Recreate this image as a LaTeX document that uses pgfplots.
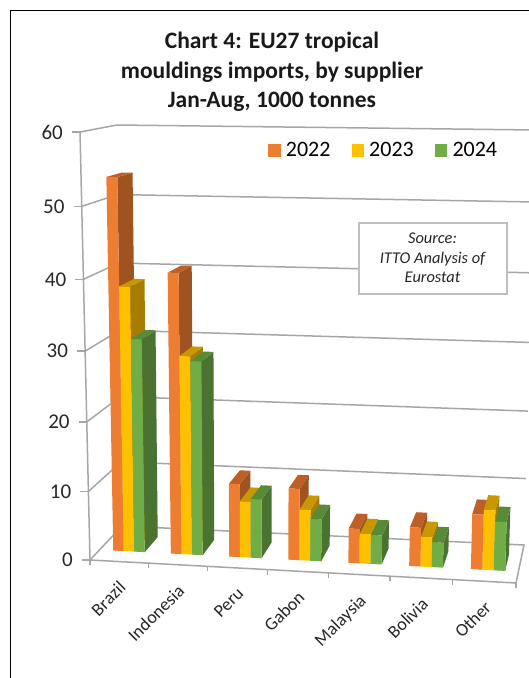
\documentclass[border=0pt]{standalone}
\usepackage{pgfplots}
\usepackage{pgfplotstable}
\usepackage{fontspec}
\setmainfont{Carlito}
\pgfplotsset{compat=1.18}

% Imports in 1000 tonnes, one row per supplier
\pgfplotstableread{
sup y2022 y2023 y2024
0 53.6 38.4 31.0
1 40.5 28.8 28.1
2 10.7  8.2  8.6
3 10.4  7.4  6.1
4  5.0  4.3  4.2
5  5.6  4.3  3.6
6  7.9  8.6  7.0
}\imports

\definecolor{orF}{HTML}{ED7D31}\definecolor{orS}{HTML}{9E5320}\definecolor{orT}{HTML}{BC6027}
\definecolor{yeF}{HTML}{FFC000}\definecolor{yeS}{HTML}{A67D00}\definecolor{yeT}{HTML}{C99700}
\definecolor{grF}{HTML}{70AD47}\definecolor{grS}{HTML}{4A7230}\definecolor{grT}{HTML}{598A38}
\definecolor{wall}{HTML}{A6A6A6}

% Perspective box: category u in 0..7, depth w in 0..1, value v in 0..60.
% Result in \px, \py (picture units).
\newcommand\proj[3]{%
  \pgfmathsetmacro\ps{(#1/7)/(1+0.05*(1-#1/7))}%
  \pgfmathsetmacro\pt{(#3/60)/(1+0.049*(1-#3/60))}%
  \pgfmathsetmacro\pxF{(1-\pt)*(90+\ps*426)+\pt*(80+\ps*450)}%
  \pgfmathsetmacro\pyF{(1-\pt)*(560+\ps*23)+\pt*(132+\ps*5)}%
  \pgfmathsetmacro\pxB{(1-\pt)*(122+\ps*402)+\pt*(117+\ps*419)}%
  \pgfmathsetmacro\pyB{(1-\pt)*(526+\ps*19)+\pt*(125+\ps*5)}%
  \pgfmathsetmacro\px{(1-#2)*\pxF+#2*\pxB}%
  \pgfmathsetmacro\py{(1-#2)*\pyF+#2*\pyB}%
}
% Polyline in the wall colour through three box points
\newcommand\wallpath[3]{%
  \proj#1\let\ax\px\let\ay\py
  \proj#2\let\bx\px\let\by\py
  \proj#3\let\cx\px\let\cy\py
  \edef\tmp{\noexpand\addplot[wall,line width=1.5pt,forget plot] coordinates
    {(\ax,\ay)(\bx,\by)(\cx,\cy)};}\tmp}
% Filled quadrilateral: colour, then four points of three numbers each
\newcommand\quadfaceX[1]{\def\qc{#1}\quadfaceY}
\newcommand\quadfaceY[9]{%
  \proj{#1}{#2}{#3}\let\ax\px\let\ay\py
  \proj{#4}{#5}{#6}\let\bx\px\let\by\py
  \proj{#7}{#8}{#9}\let\cx\px\let\cy\py
  \quadfaceZ}
\newcommand\quadfaceZ[3]{%
  \proj{#1}{#2}{#3}%
  \edef\tmp{\noexpand\addplot[fill=\qc,draw=none,forget plot] coordinates
    {(\ax,\ay)(\bx,\by)(\cx,\cy)(\px,\py)} --cycle;}\tmp}
% One bar: category, series index, value, front, side and top colours
\newcommand\onebar[6]{%
  \pgfmathsetmacro\ua{#1+0.24+#2*0.183}%
  \pgfmathsetmacro\ub{\ua+0.183}%
  \def\wf{0.30}\def\wb{0.74}%
  \quadfaceX{#5}{\ub}{\wf}{0}{\ub}{\wb}{0}{\ub}{\wb}{#3}{\ub}{\wf}{#3}%
  \quadfaceX{#6}{\ua}{\wf}{#3}{\ub}{\wf}{#3}{\ub}{\wb}{#3}{\ua}{\wb}{#3}%
  \quadfaceX{#4}{\ua}{\wf}{0}{\ub}{\wf}{0}{\ub}{\wf}{#3}{\ua}{\wf}{#3}%
}

\begin{document}
\begin{tikzpicture}[x=1pt,y=1pt]
\useasboundingbox (0,0) rectangle (529,678);
\begin{axis}[
  at={(0,0)},anchor=south west,
  width=529pt,height=678pt,scale only axis,
  xmin=0,xmax=529,ymin=0,ymax=678,y dir=reverse,
  axis lines=none,clip=true,
  legend style={at={(axis cs:268,150)},anchor=west,draw=none,fill=none,
    font=\fontsize{22}{24}\selectfont,inner xsep=0pt,inner ysep=0pt,
    legend columns=3,
    /tikz/every even column/.append style={column sep=19pt}},
  legend image code/.code={\fill[#1] (0pt,-6pt) rectangle (11.5pt,6pt);\path[draw=none,fill=none] (0pt,0pt) -- (15.5pt,0pt);},
]
\addlegendimage{orF}\addlegendentry{2022}
\addlegendimage{yeF}\addlegendentry{2023}
\addlegendimage{grF}\addlegendentry{2024}

% Chart border
\addplot[black,line width=1.2pt,forget plot] coordinates {(10.5,678)(10.5,10.5)(529,10.5)};

% Gridlines along the side and back walls
\pgfplotsforeachungrouped \v in {10,20,...,60}{%
  \wallpath{{0}{0}{\v}}{{0}{1}{\v}}{{7}{1}{\v}}%
}
% Floor outline and front vertical edge
\wallpath{{0}{0}{60}}{{0}{0}{0}}{{7}{0}{0}}
\wallpath{{7}{0}{0}}{{7}{1}{0}}{{0}{1}{0}}
\wallpath{{0}{0}{0}}{{0}{1}{0}}{{0}{1}{0}}

% Value and category ticks
\pgfplotsforeachungrouped \v in {0,10,...,60}{%
  \proj{0}{0}{\v}%
  \pgfmathsetmacro\tx{\px-8}%
  \pgfmathsetmacro\lx{\px-17}%
  \edef\tmp{\noexpand\addplot[wall,line width=1.5pt,forget plot] coordinates {(\tx,\py)(\px,\py)};
    \noexpand\node[anchor=east,font=\noexpand\fontsize{21}{24}\noexpand\selectfont,text=black!85,inner sep=0pt]
      at (axis cs:\lx,\py) {\v};}\tmp
}
\pgfplotsforeachungrouped \k in {0,...,7}{%
  \proj{\k}{0}{0}%
  \pgfmathsetmacro\ty{\py+5}%
  \edef\tmp{\noexpand\addplot[wall,line width=1.5pt,forget plot] coordinates {(\px,\py)(\px,\ty)};}\tmp
}
% Supplier names
\pgfplotsforeachungrouped \k/\name in {0/Brazil,1/Indonesia,2/Peru,3/Gabon,4/Malaysia,5/Bolivia,6/Other}{%
  \pgfmathsetmacro\um{\k+0.6}%
  \proj{\um}{0}{0}%
  \pgfmathsetmacro\lx{\px-7}%
  \pgfmathsetmacro\ly{\py+18}%
  \edef\tmp{\noexpand\node[rotate=45,anchor=north east,inner sep=0pt,text=black!85,
      font=\noexpand\fontsize{18}{20}\noexpand\selectfont]
      at (axis cs:\lx,\ly) {\name};}\tmp
}

% Bars, left to right so that nearer faces overpaint
\pgfplotsforeachungrouped \r in {0,...,6}{%
  \pgfplotstablegetelem{\r}{y2022}\of\imports \let\va\pgfplotsretval
  \pgfplotstablegetelem{\r}{y2023}\of\imports \let\vb\pgfplotsretval
  \pgfplotstablegetelem{\r}{y2024}\of\imports \let\vc\pgfplotsretval
  \onebar{\r}{0}{\va}{orF}{orS}{orT}%
  \onebar{\r}{1}{\vb}{yeF}{yeS}{yeT}%
  \onebar{\r}{2}{\vc}{grF}{grS}{grT}%
}

% Title and source note
\node[align=center,font=\fontsize{23.5}{29.5}\selectfont\bfseries,text=black!90,anchor=center]
  at (axis cs:272,72) {Chart 4: EU27 tropical\\mouldings imports, by supplier\\Jan-Aug, 1000 tonnes};
\node[draw=black!25,line width=2pt,fill=white,minimum width=148pt,minimum height=71pt,inner sep=0pt,
  align=center,text=black!85,font=\fontsize{16.4}{19.5}\selectfont\itshape]
  at (axis cs:432.5,258) {Source:\\ITTO Analysis of\\Eurostat};
\end{axis}
\end{tikzpicture}
\end{document}
